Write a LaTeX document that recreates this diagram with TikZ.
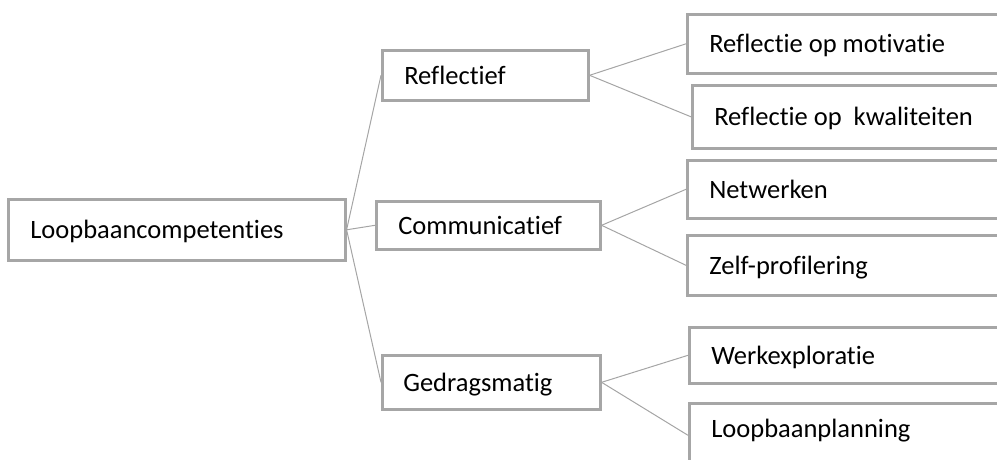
\documentclass[tikz,border=0pt]{standalone}
\usepackage{fontspec}
\setmainfont{Carlito}[Ligatures=NoCommon]
\usepackage{tikz}
\usetikzlibrary{positioning}
\definecolor{boxgray}{RGB}{166,166,166}
\definecolor{linegray}{RGB}{165,165,165}

\begin{document}
\begin{tikzpicture}
    [x=1pt,y=-1pt,
    box/.style={rectangle,draw=boxgray,line width=2.6pt,anchor=north west,inner xsep=22pt,inner ysep=0pt,align=left,text height=21pt,text depth=3pt,font=\fontsize{26.5}{32}\selectfont,execute at begin node={\spaceskip=0pt\xspaceskip=0pt}},
    link/.style={draw=linegray,line width=1pt}]
    \useasboundingbox (0,0) rectangle (997,459);
    \clip (0,0) rectangle (997,459);
    % root and the three groups
    \node [box,text width=293pt,minimum height=61pt] (comp) at (7,198) {Loopbaancompetenties};
    \node [box,text width=162pt,minimum height=50pt] (refl) at (381,49) {Reflectief};
    \node [box,text width=180pt,minimum height=48pt] (comm) at (375,200) {Communicatief};
    \node [box,text width=176pt,minimum height=54pt,inner xsep=21pt] (gedr) at (381,354) {Gedragsmatig};
    % leaves (cut off at the right edge)
    \node [box,text width=286pt,minimum height=59pt] (motiv) at (686,13) {Reflectie op motivatie};
    \node [box,text width=286pt,minimum height=63pt] (kwal) at (691,84) {Reflectie op\ \ kwaliteiten};
    \node [box,text width=286pt,minimum height=58pt] (netw) at (686,159) {Netwerken};
    \node [box,text width=286pt,minimum height=60pt] (zelf) at (686,234) {Zelf-profilering};
    \node [box,text width=286pt,minimum height=56pt] (werk) at (688,326) {Werkexploratie};
    \node [box,text width=286pt,minimum height=64pt,text depth=17pt] (plan) at (688,402) {Loopbaanplanning};
    \foreach \grp in {refl,comm,gedr}
        \draw[link] (comp.east) -- (\grp.west);
    \draw[link] (refl.east) -- (motiv.west);
    \draw[link] (refl.east) -- (kwal.west);
    \draw[link] (comm.east) -- (netw.west);
    \draw[link] (comm.east) -- (zelf.west);
    \draw[link] (gedr.east) -- (werk.west);
    \draw[link] (gedr.east) -- (plan.west);
\end{tikzpicture}
\end{document}
